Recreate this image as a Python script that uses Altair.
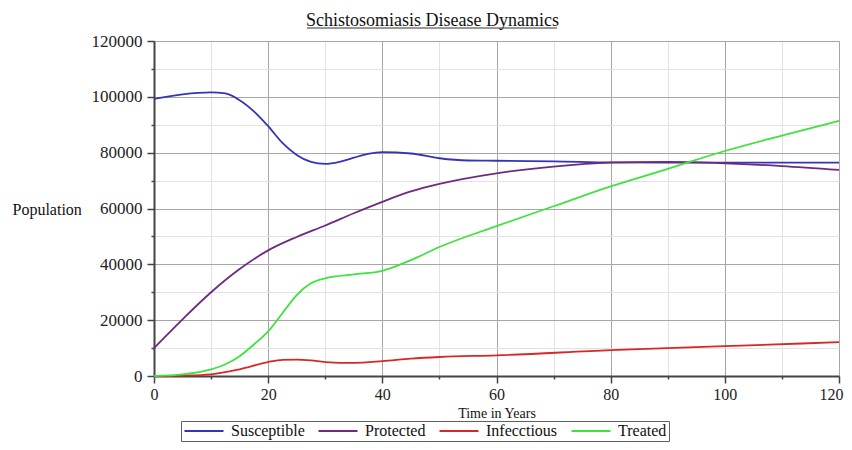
import altair as alt
import pandas as pd

# ---- data ----
series_names = ["Susceptible", "Protected", "Infecctious", "Treated"]
series_colors = ["#3434b8", "#6e2a80", "#d62828", "#3fe23f"]

t_sus = [0, 5, 10, 12.5, 15, 17.5, 20, 22.5, 25, 27.5, 30, 32.5, 35, 37.5, 40, 45, 50, 55, 60, 70, 80, 90, 100, 110, 120]
v_sus = [99300, 100900, 101600, 101200, 98800, 94800, 89500, 83500, 79200, 76700, 75950, 76700, 78200, 79600, 80200,
         79700, 78000, 77200, 77100, 76900, 76500, 76400, 76400, 76400, 76400]

t_pro = [0, 5, 10, 15, 20, 25, 30, 35, 40, 45, 50, 60, 70, 80, 90, 100, 110, 120]
v_pro = [10000, 20300, 30000, 38300, 45000, 49800, 53900, 58300, 62400, 66100, 68800, 72600, 75000, 76400,
         76700, 76200, 75200, 73800]

t_inf = [0, 5, 10, 15, 20, 22.5, 25, 27.5, 30, 35, 40, 45, 50, 60, 80, 100, 120]
v_inf = [0, 150, 600, 2400, 5000, 5800, 5900, 5600, 5000, 4700, 5300, 6200, 6800, 7400, 9250, 10700, 12100]

t_tre = [0, 5, 10, 12.5, 15, 17.5, 20, 22.5, 25, 27.5, 30, 35, 40, 45, 50, 60, 70, 80, 90, 100, 110, 120]
v_tre = [0, 600, 2400, 4200, 7100, 11300, 16000, 22500, 29000, 33200, 35000, 36400, 37700, 41500, 46200,
         53700, 60800, 67900, 74200, 80600, 86100, 91400]

x_ticks = list(range(0, 121, 10))
y_ticks = list(range(0, 120001, 10000))

rows = []
for name, ts, vs in zip(series_names, [t_sus, t_pro, t_inf, t_tre], [v_sus, v_pro, v_inf, v_tre]):
    for t, v in zip(ts, vs):
        rows.append({"Time": t, "Population": v, "Series": name})
df = pd.DataFrame(rows)

FONT = "Liberation Serif"
MAJ = "#a6a6a6"
MIN = "#e2e2e2"

def grid_color(step):
    return {"condition": {"test": f"datum.value % {step} === 0", "value": MAJ}, "value": MIN}

def tick_size(step):
    return {"condition": {"test": f"datum.value % {step} === 0", "value": 7}, "value": 3}

x_axis = alt.Axis(
    values=x_ticks, format="d",
    labelExpr="datum.value % 20 === 0 ? datum.label : ''",
    title="Time in Years", titleFont=FONT, titleFontSize=14, titleFontWeight="normal",
    titleColor="#111", titleY=37, titleBaseline="middle",
    labelFont=FONT, labelFontSize=16, labelColor="#222", labelPadding=3, labelFlush=False,
    labelOffset={"condition": {"test": "datum.value === 120", "value": -8}, "value": 0},
    gridColor=grid_color(20), gridWidth=1,
    tickColor="#444", tickSize=tick_size(20), tickWidth=1.5,
    domainColor="#444", domainWidth=2,
)
y_axis = alt.Axis(
    values=y_ticks, format="d",
    labelExpr="datum.value % 20000 === 0 ? datum.label : ''",
    title="Population", titleFont=FONT, titleFontSize=16, titleFontWeight="normal",
    titleColor="#111", titleAngle=0, titleAlign="left", titleBaseline="middle",
    titleX=-142, titleY=168,
    labelFont=FONT, labelFontSize=17, labelColor="#222", labelPadding=5, labelFlush=False,
    gridColor=grid_color(20000), gridWidth=1,
    tickColor="#444", tickSize=tick_size(20000), tickWidth=1.5,
    domainColor="#444", domainWidth=2,
)

lines = alt.Chart(df).mark_line(strokeWidth=1.8, interpolate="monotone").encode(
    x=alt.X("Time:Q", scale=alt.Scale(domain=[0, 120], nice=False, zero=False), axis=x_axis),
    y=alt.Y("Population:Q", scale=alt.Scale(domain=[0, 120000], nice=False), axis=y_axis),
    color=alt.Color(
        "Series:N",
        scale=alt.Scale(domain=series_names, range=series_colors),
        sort=series_names,
        legend=alt.Legend(
            title=None, orient="none", legendX=27, legendY=380, direction="horizontal",
            symbolType="M-3,0H3", symbolSize=169, symbolStrokeWidth=2, symbolOffset=13,
            labelFont=FONT, labelFontSize=16, labelColor="#111", labelOffset=19,
            columnPadding=9, strokeColor="#606060", padding=2,
        ),
    ),
    detail="Series:N",
)

underline = alt.Chart(pd.DataFrame({"u": [0]})).mark_rule(color="#333", strokeWidth=1, clip=False).encode(
    x=alt.value(153), x2=alt.value(403), y=alt.value(-13)
)

chart = alt.layer(lines, underline).properties(
    width=685, height=335,
    title=alt.TitleParams(
        "Schistosomiasis Disease Dynamics", font=FONT, fontSize=18, fontWeight="normal",
        color="#111", anchor="middle", dx=-64, offset=15, dy=17,
    ),
    autosize=alt.AutoSizeParams(type="none"),
    padding={"left": 146, "top": 33, "right": 5, "bottom": 66},
    background="white",
).configure_view(stroke=None)

chart.save("out.html", embed_options={"renderer": "svg", "actions": False})
